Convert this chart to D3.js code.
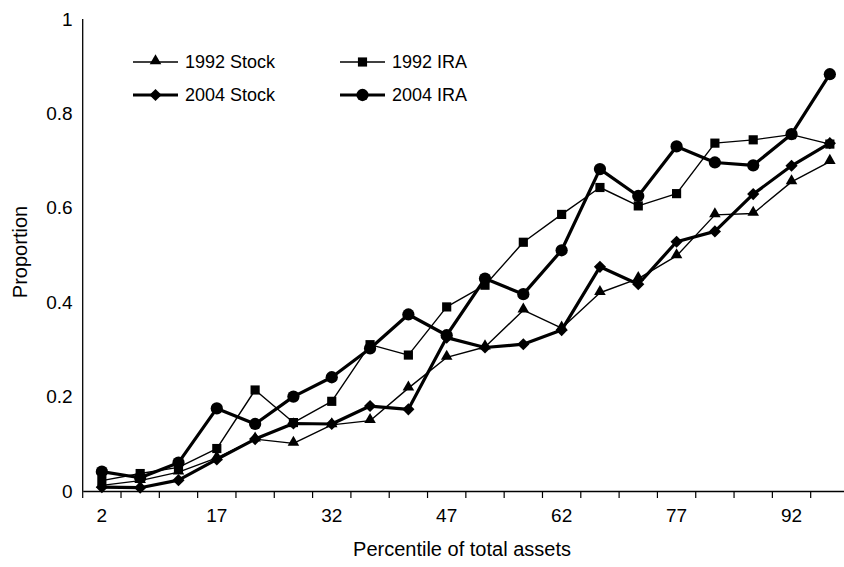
<!DOCTYPE html>
<html lang="en">
<head>
<meta charset="UTF-8">
<title>Proportion by percentile of total assets</title>
<script src="https://d3js.org/d3.v7.min.js"></script>
<style>
    body { margin: 0; background: #fff; }
    svg { display: block; }
    text { font-family: "Liberation Sans", Arial, Helvetica, sans-serif; fill: #000; }
    .tick-label { font-size: 19px; }
    .axis-title { font-size: 20px; }
    .legend text { font-size: 18px; }
</style>
</head>
<body>
<svg width="844" height="567"></svg>
<script>
    // Data
    var percentiles = [2, 7, 12, 17, 22, 27, 32, 37, 42, 47, 52, 57, 62, 67, 72, 77, 82, 87, 92, 97];
    var xTickLabels = [2, 17, 32, 47, 62, 77, 92];
    var yTickLabels = [0, 0.2, 0.4, 0.6, 0.8, 1];

    var stock1992 = [0.012, 0.022, 0.04, 0.07, 0.11, 0.101, 0.14, 0.149, 0.218, 0.283, 0.305, 0.383, 0.345, 0.42, 0.45, 0.498, 0.585, 0.588, 0.655, 0.698];
    var ira1992   = [0.022, 0.037, 0.05, 0.09, 0.214, 0.145, 0.19, 0.31, 0.288, 0.39, 0.436, 0.527, 0.586, 0.643, 0.604, 0.63, 0.737, 0.744, 0.755, 0.735];
    var stock2004 = [0.008, 0.007, 0.023, 0.067, 0.11, 0.143, 0.142, 0.18, 0.173, 0.325, 0.304, 0.311, 0.341, 0.475, 0.438, 0.528, 0.55, 0.629, 0.689, 0.737];
    var ira2004   = [0.041, 0.028, 0.06, 0.175, 0.142, 0.2, 0.241, 0.302, 0.374, 0.33, 0.45, 0.417, 0.51, 0.682, 0.625, 0.73, 0.696, 0.69, 0.756, 0.883];

    var series = [
        {name: "1992 Stock", values: stock1992, symbol: "triangle", width: 1.4},
        {name: "1992 IRA", values: ira1992, symbol: "square", width: 1.4},
        {name: "2004 Stock", values: stock2004, symbol: "diamond", width: 3.2},
        {name: "2004 IRA", values: ira2004, symbol: "circle", width: 3.2}
    ];

    var svg = d3.select("svg");

    // plot area (the figure is cut off at the right edge)
    var plotLeft = 82.7, plotRight = 849, plotTop = 19, plotBottom = 491;

    var x = d3.scaleBand().domain(percentiles).range([plotLeft, plotRight]);
    var y = d3.scaleLinear().domain([0, 1]).range([plotBottom, plotTop]);

    // symbol generator
    function symbolPath(type) {
        if (type === "triangle") return d3.symbol().type(d3.symbolTriangle).size(58)();
        if (type === "square") return d3.symbol().type(d3.symbolSquare).size(84)();
        if (type === "diamond") return d3.symbol().type(d3.symbolSquare).size(74)();
        return d3.symbol().type(d3.symbolCircle).size(118)();
    }
    function symbolTransform(type, px, py) {
        var t = "translate(" + px + "," + py + ")";
        if (type === "diamond") t += " rotate(45)";
        if (type === "triangle") t += " translate(0,-1)";
        return t;
    }

    // y axis: plain line, labels only
    svg.append("line")
        .attr("x1", plotLeft).attr("x2", plotLeft)
        .attr("y1", plotTop).attr("y2", plotBottom)
        .attr("stroke", "#000").attr("stroke-width", 1.3);

    svg.selectAll(".ylab")
        .data(yTickLabels)
        .enter().append("text")
        .attr("class", "tick-label")
        .attr("x", plotLeft - 10)
        .attr("y", function(d) { return y(d); })
        .attr("dy", "0.35em")
        .attr("text-anchor", "end")
        .text(function(d) { return d; });

    // x axis with ticks at category boundaries
    var xAxis = d3.axisBottom(x)
        .tickValues([])
        .tickSize(0)
        .tickSizeOuter(0);
    var xg = svg.append("g")
        .attr("transform", "translate(0," + plotBottom + ")")
        .call(xAxis);
    xg.select(".domain").attr("stroke", "#000").attr("stroke-width", 1.3);

    var bounds = percentiles.map(function(p) { return x(p); });
    bounds.push(x(percentiles[percentiles.length - 1]) + x.bandwidth());
    xg.selectAll(".bound")
        .data(bounds)
        .enter().append("line")
        .attr("x1", function(d) { return d; })
        .attr("x2", function(d) { return d; })
        .attr("y1", 0).attr("y2", 7)
        .attr("stroke", "#000").attr("stroke-width", 1.2);

    svg.selectAll(".xlab")
        .data(xTickLabels)
        .enter().append("text")
        .attr("class", "tick-label")
        .attr("x", function(d) { return x(d) + x.bandwidth() / 2; })
        .attr("y", plotBottom + 31)
        .attr("text-anchor", "middle")
        .text(function(d) { return d; });

    // axis titles
    svg.append("text")
        .attr("class", "axis-title")
        .attr("x", 462)
        .attr("y", 556)
        .attr("text-anchor", "middle")
        .text("Percentile of total assets");

    svg.append("text")
        .attr("class", "axis-title")
        .attr("transform", "translate(27,252) rotate(-90)")
        .attr("text-anchor", "middle")
        .text("Proportion");

    // lines and markers
    var line = d3.line()
        .x(function(d, i) { return x(percentiles[i]) + x.bandwidth() / 2; })
        .y(function(d) { return y(d); });

    series.forEach(function(s) {
        var g = svg.append("g");
        g.append("path")
            .datum(s.values)
            .attr("fill", "none")
            .attr("stroke", "#000")
            .attr("stroke-width", s.width)
            .attr("stroke-linejoin", "round")
            .attr("d", line);
        g.selectAll("path.marker")
            .data(s.values)
            .enter().append("path")
            .attr("class", "marker")
            .attr("d", symbolPath(s.symbol))
            .attr("fill", "#000")
            .attr("transform", function(d, i) {
                return symbolTransform(s.symbol, x(percentiles[i]) + x.bandwidth() / 2, y(d));
            });
    });

    // legend
    var legendPos = [
        {x: 133, y: 62}, {x: 340, y: 62},
        {x: 133, y: 95}, {x: 340, y: 95}
    ];
    var legend = svg.selectAll(".legend")
        .data(series)
        .enter().append("g")
        .attr("class", "legend")
        .attr("transform", function(d, i) { return "translate(" + legendPos[i].x + "," + legendPos[i].y + ")"; });

    legend.append("line")
        .attr("x1", 0).attr("x2", 45)
        .attr("y1", 0).attr("y2", 0)
        .attr("stroke", "#000")
        .attr("stroke-width", function(d) { return d.width; });

    legend.append("path")
        .attr("d", function(d) { return symbolPath(d.symbol); })
        .attr("fill", "#000")
        .attr("transform", function(d) { return symbolTransform(d.symbol, 22.5, 0); });

    legend.append("text")
        .attr("x", 52)
        .attr("dy", "0.35em")
        .text(function(d) { return d.name; });
</script>
</body>
</html>
